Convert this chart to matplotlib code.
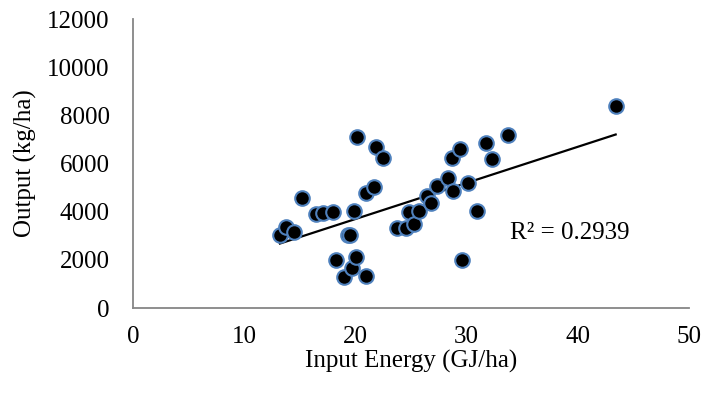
import numpy as np
import matplotlib
matplotlib.use('Agg')
import matplotlib.pyplot as plt

plt.rcParams['font.family'] = ['Liberation Serif', 'DejaVu Serif']

# input energy (GJ/ha) and output (kg/ha)
energy = [13.2, 13.7, 14.5, 15.2, 16.4, 17.1, 18.0, 18.2, 19.0, 19.3,
          19.5, 19.7, 19.9, 20.0, 20.1, 20.9, 20.9, 21.7, 21.8, 22.5,
          23.7, 24.5, 24.8, 25.3, 25.7, 26.4, 26.8, 27.3, 28.3, 28.7,
          28.8, 29.4, 29.6, 30.1, 30.9, 31.7, 32.3, 33.7, 43.4]
output = [3050, 3380, 3170, 4580, 3890, 3930, 3970, 1990, 1300, 3030,
          3030, 1650, 4040, 2130, 7090, 1330, 4760, 5040, 6670, 6215,
          3340, 3320, 4000, 3490, 4040, 4650, 4350, 5070, 5400, 6215,
          4880, 6590, 2010, 5210, 4030, 6870, 6190, 7180, 8390]
# linear trendline as drawn in the original
trend_slope = 149.9
trend_icpt = 701
r2_label = 'R² = 0.2939'

x = np.array(energy)
y = np.array(output)
xs = np.array([x.min(), x.max()])

fig = plt.figure(figsize=(7.2, 3.97), dpi=100)
ax = fig.add_axes([0.185, 0.224, 0.772, 0.728])

ax.scatter(x, y, s=110, c='black', edgecolors='#4f81bd', linewidths=1.5, zorder=3)
ax.plot(xs, trend_slope * xs + trend_icpt, color='black', lw=1.6, zorder=2)
ax.text(33.9, 3100, r2_label, fontsize=18, va='center', ha='left')

ax.set_xlim(0, 50)
ax.set_ylim(0, 12000)
ax.set_xticks(range(0, 51, 10))
ax.set_yticks(range(0, 12001, 2000))
ax.tick_params(length=0, labelsize=18)
ax.tick_params(axis='y', pad=17)
ax.tick_params(axis='x', pad=13)
for s in ['top', 'right']:
    ax.spines[s].set_visible(False)
for s in ['left', 'bottom']:
    ax.spines[s].set_color('#868686')
    ax.spines[s].set_linewidth(1.3)

ax.set_xlabel('Input Energy (GJ/ha)', fontsize=18, labelpad=1)
ax.set_ylabel('Output (kg/ha)', fontsize=18, labelpad=7)

fig.savefig('out.png', dpi=100)
